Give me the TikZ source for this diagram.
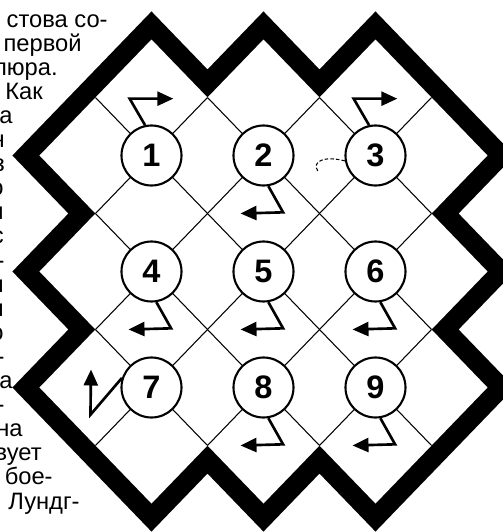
\documentclass[tikz,border=0pt]{standalone}
\usepackage{fontspec}
\setmainfont{Liberation Sans}
\usetikzlibrary{arrows.meta}

\tikzset{
  num/.style={circle, draw, fill=white, line width=1.2pt, minimum size=1.2cm,
    inner sep=0pt, font=\fontsize{18.5}{18.5}\selectfont\bfseries},
  gridline/.style={line width=0.6pt},
  turn/.style={line width=1.5pt, -{Triangle[length=3.2mm,width=2.8mm]}},
  textline/.style={anchor=base east, inner sep=0pt, font=\fontsize{13.5}{15}\selectfont},
}

\begin{document}
\begin{tikzpicture}[x=1.12cm, y=1.16cm]
    \useasboundingbox (-5.27cm,-5.21cm) rectangle (4.79cm,5.43cm);
    \clip (-5.27cm,-5.21cm) rectangle (4.79cm,5.43cm);

    % Text column behind the board
    \node[textline] (t1) at (-3.11cm,4.89cm) {стова со-};
    \node[textline] (t2) at (-3.63cm,4.408cm) {и первой};
    \node[textline] (t3) at (-4.11cm,3.926cm) {люра.};
    \node[textline] (t4) at (-4.41cm,3.444cm) {Как};
    \node[textline] (t5) at (-5.01cm,2.962cm) {а};
    \node[textline] (t6) at (-5.17cm,2.48cm) {н};
    \node[textline] (t7) at (-5.17cm,1.998cm) {з};
    \node[textline] (t8) at (-5.19cm,1.516cm) {о};
    \node[textline] (t9) at (-5.19cm,1.034cm) {и};
    \node[textline] (t10) at (-5.19cm,0.552cm) {с};
    \node[textline] (t11) at (-5.17cm,0.07cm) {-};
    \node[textline] (t12) at (-5.19cm,-0.412cm) {н};
    \node[textline] (t13) at (-5.19cm,-0.894cm) {н};
    \node[textline] (t14) at (-5.19cm,-1.376cm) {о};
    \node[textline] (t15) at (-5.17cm,-1.858cm) {-};
    \node[textline] (t16) at (-5.01cm,-2.34cm) {а};
    \node[textline] (t17) at (-5.17cm,-2.822cm) {-};
    \node[textline] (t18) at (-4.81cm,-3.304cm) {на};
    \node[textline] (t19) at (-4.43cm,-3.786cm) {вует};
    \node[textline] (t20) at (-4.21cm,-4.268cm) {и бое-};
    \node[textline] (t21) at (-3.67cm,-4.75cm) {Лундг-};

    % Board with thick zigzag rim
    \path[fill=white, preaction={draw, line width=0.78cm, line join=miter}]
        (-2,4) -- (-1,3) -- (0,4) -- (1,3) -- (2,4) -- (4,2) -- (3,1) -- (4,0)
        -- (3,-1) -- (4,-2) -- (2,-4) -- (1,-3) -- (0,-4) -- (-1,-3) -- (-2,-4)
        -- (-4,-2) -- (-3,-1) -- (-4,0) -- (-3,1) -- (-4,2) -- cycle;

    % Diagonal grid
    \draw[gridline] (-3,-3) -- (3,3);
    \draw[gridline] (-3,-1) -- (1,3);
    \draw[gridline] (-3,1) -- (-1,3);
    \draw[gridline] (-1,-3) -- (3,1);
    \draw[gridline] (1,-3) -- (3,-1);
    \draw[gridline] (-3,3) -- (3,-3);
    \draw[gridline] (-1,3) -- (3,-1);
    \draw[gridline] (1,3) -- (3,1);
    \draw[gridline] (-3,1) -- (1,-3);
    \draw[gridline] (-3,-1) -- (-1,-3);

    % Numbered points
    \node[num] (c1) at (-2,2) {1};
    \node[num] (c2) at (0,2) {2};
    \node[num] (c3) at (2,2) {3};
    \node[num] (c4) at (-2,0) {4};
    \node[num] (c5) at (0,0) {5};
    \node[num] (c6) at (2,0) {6};
    \node[num] (c7) at (-2,-2) {7};
    \node[num] (c8) at (0,-2) {8};
    \node[num] (c9) at (2,-2) {9};

    % Bent arrows
    \draw[turn] (c1.102) -- ([shift={(-0.39,0.98)}]c1.center) -- ([shift={(0.39,0.98)}]c1.center);
    \draw[turn] (c3.102) -- ([shift={(-0.39,0.98)}]c3.center) -- ([shift={(0.39,0.98)}]c3.center);
    \draw[turn] (c2.-81) -- ([shift={(0.35,-0.98)}]c2.center) -- ([shift={(-0.41,-1)}]c2.center);
    \draw[turn] (c4.-81) -- ([shift={(0.35,-0.98)}]c4.center) -- ([shift={(-0.41,-1)}]c4.center);
    \draw[turn] (c5.-81) -- ([shift={(0.35,-0.98)}]c5.center) -- ([shift={(-0.41,-1)}]c5.center);
    \draw[turn] (c6.-81) -- ([shift={(0.35,-0.98)}]c6.center) -- ([shift={(-0.41,-1)}]c6.center);
    \draw[turn] (c8.-81) -- ([shift={(0.35,-0.98)}]c8.center) -- ([shift={(-0.41,-1)}]c8.center);
    \draw[turn] (c9.-81) -- ([shift={(0.35,-0.98)}]c9.center) -- ([shift={(-0.41,-1)}]c9.center);
    \draw[turn] (c7.162) -- ([shift={(-1.09,-0.47)}]c7.center) -- ([shift={(-1.08,0.31)}]c7.center);

    % Small hook left of 3
    \coordinate (hook) at (0.97,1.73);
    \draw[gridline, dashed, dash pattern=on 2pt off 1.2pt] (c3.190) .. controls (1.08,2.0) and (0.86,1.9) .. (hook);
\end{tikzpicture}
\end{document}
